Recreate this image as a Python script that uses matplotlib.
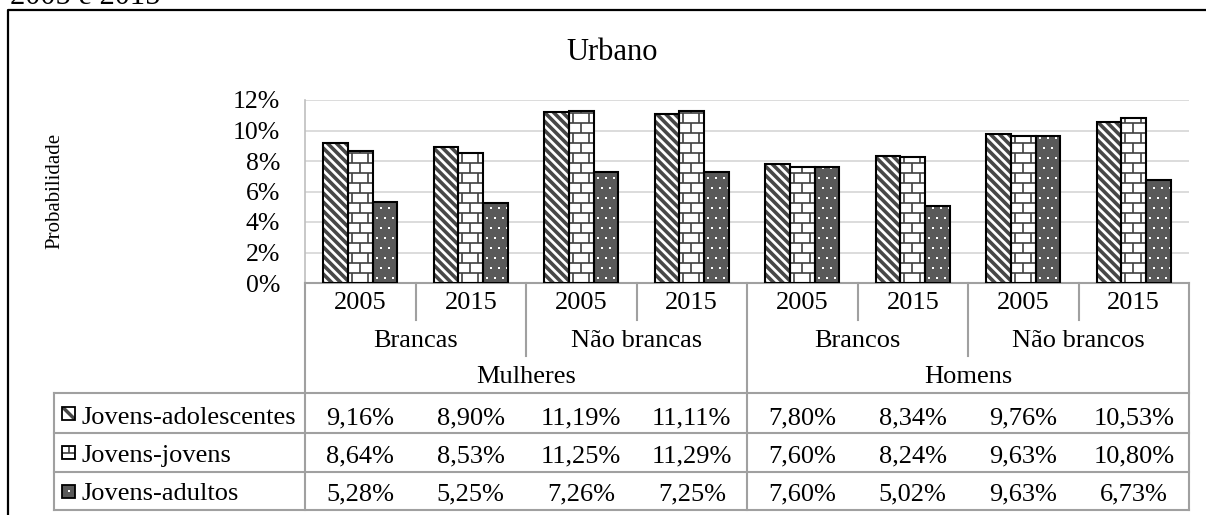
import matplotlib
matplotlib.use('Agg')
import matplotlib.pyplot as plt
import numpy as np
from matplotlib.transforms import Affine2D, IdentityTransform
from matplotlib.lines import Line2D
from matplotlib.patches import Rectangle
from matplotlib.collections import LineCollection

# ---------------- data ----------------
years = ['2005', '2015', '2005', '2015', '2005', '2015', '2005', '2015']
groups = ['Brancas', 'Não brancas', 'Brancos', 'Não brancos']
genders = ['Mulheres', 'Homens']
series_names = ['Jovens-adolescentes', 'Jovens-jovens', 'Jovens-adultos']
adolescentes = [9.16, 8.90, 11.19, 11.11, 7.80, 8.34, 9.76, 10.53]
jovens = [8.64, 8.53, 11.25, 11.29, 7.60, 8.24, 9.63, 10.80]
adultos = [5.28, 5.25, 7.26, 7.25, 7.60, 5.02, 9.63, 6.73]
yticks = [0, 2, 4, 6, 8, 10, 12]
title = 'Urbano'
ylabel = 'Probabilidade'
caption = '2005 e 2015'

# ---------------- setup ----------------
W, H, DPI = 1206, 515, 100
plt.rcParams['font.family'] = ['Liberation Serif', 'DejaVu Serif']
fig = plt.figure(figsize=(W / DPI, H / DPI), dpi=DPI)
PX = Affine2D().scale(1, -1).translate(0, H)  # pixel coords (top-left origin) -> display
ID = IdentityTransform()
FS = 19

AX_L, AX_R, AX_T, AX_B = 305, 1189, 100, 283
ax = fig.add_axes([AX_L / W, 1 - AX_B / H, (AX_R - AX_L) / W, (AX_B - AX_T) / H])
n = len(years)
xpos = np.arange(n) + 0.5
ax.set_xlim(0, n)
ax.set_ylim(0, 12)
ax.set_autoscale_on(False)

ax.set_yticks(yticks)
ax.set_yticklabels([f'{v}%' for v in yticks], fontsize=18.5)
ax.tick_params(axis='y', length=0, pad=18)
ax.set_xticks([])
ax.yaxis.grid(True, color='#d9d9d9', linewidth=1.3)
ax.set_axisbelow(True)
for s in ['top', 'right']:
    ax.spines[s].set_visible(False)
ax.spines['left'].set_color('#bfbfbf')
ax.spines['left'].set_linewidth(1.2)
ax.spines['bottom'].set_color('#a0a0a0')
ax.spines['bottom'].set_linewidth(1.5)

# ---------------- textures ----------------
def add_stripes(container, patch, bbox, period, lw, color, z, anchor):
    x0, y0, x1, y1 = bbox
    c0 = anchor[0] + anchor[1]
    kmin = int(np.floor((x0 + y0 - c0) / period)) - 2
    kmax = int(np.ceil((x1 + y1 - c0) / period)) + 2
    segs = []
    for k in range(kmin, kmax + 1):
        c = c0 + k * period
        segs.append([(x0 - 6, c - (x0 - 6)), (x1 + 6, c - (x1 + 6))])
    lc = LineCollection(segs, colors=color, linewidths=lw, transform=ID, zorder=z)
    container.add_artist(lc)
    lc.set_clip_path(patch)


def add_bricks(container, patch, bbox, ph, bw, lw, color, z, anchor):
    x0, y0, x1, y1 = bbox
    ax0, ay0 = anchor
    segs = []
    kmin = int(np.floor((y0 - ay0) / ph)) - 1
    kmax = int(np.ceil((y1 - ay0) / ph)) + 1
    for k in range(kmin, kmax + 1):
        y = ay0 + k * ph
        segs.append([(x0 - 4, y), (x1 + 4, y)])
        off = (k % 2) * bw / 2
        jmin = int(np.floor((x0 - ax0 - off) / bw)) - 1
        jmax = int(np.ceil((x1 - ax0 - off) / bw)) + 1
        for j in range(jmin, jmax + 1):
            xv = ax0 + off + j * bw
            segs.append([(xv, y), (xv, y + ph)])
    lc = LineCollection(segs, colors=color, linewidths=lw, transform=ID, zorder=z)
    container.add_artist(lc)
    lc.set_clip_path(patch)


def add_dots(container, patch, bbox, pxs, pys, ms, z, anchor):
    x0, y0, x1, y1 = bbox
    ax0, ay0 = anchor
    xs, ys = [], []
    kmin = int(np.floor((y0 - ay0) / pys)) - 1
    kmax = int(np.ceil((y1 - ay0) / pys)) + 1
    for k in range(kmin, kmax + 1):
        y = ay0 + k * pys
        off = (k % 2) * pxs / 2
        jmin = int(np.floor((x0 - ax0 - off) / pxs)) - 1
        jmax = int(np.ceil((x1 - ax0 - off) / pxs)) + 1
        for j in range(jmin, jmax + 1):
            xs.append(ax0 + off + j * pxs)
            ys.append(y)
    ln = Line2D(xs, ys, linestyle='none', marker='s', markersize=ms,
                markerfacecolor='white', markeredgewidth=0, transform=ID, zorder=z)
    container.add_artist(ln)
    ln.set_clip_path(patch)

STRIPE_C = '#474747'
BRICK_C = '#3f3f3f'
DARK = '#595959'

# ---------------- bars ----------------
bw = 0.2236
series = [adolescentes, jovens, adultos]
faces = ['white', 'white', DARK]
for k, vals in enumerate(series):
    bars = ax.bar(xpos + (k - 1) * bw, vals, bw, facecolor=faces[k],
                  edgecolor='none', linewidth=0, zorder=2)
    ax.bar(xpos + (k - 1) * bw, vals, bw, fill=False, edgecolor='black',
           linewidth=1.5, zorder=3)
    for b in bars:
        ext = b.get_window_extent()
        bb = (ext.x0, ext.y0, ext.x1, ext.y1)
        if k == 0:
            add_stripes(ax, b, bb, 9, 2.6, STRIPE_C, 2.5, (ext.x0, ext.y0))
        elif k == 1:
            add_bricks(ax, b, bb, 10, 16, 1.2, BRICK_C, 2.5, (ext.x0 + 4, ext.y0))
        else:
            add_dots(ax, b, bb, 8, 10, 1.6, 2.5, (ext.x0 + 4, ext.y0 + 5))

# ---------------- frame, titles ----------------
fig.add_artist(Line2D([8, 8, W], [H, 10, 10], transform=PX, color='black', linewidth=1.6))
fig.text(10, 4, caption, transform=PX, fontsize=22, va='baseline', ha='left')
fig.text(612, 60, title, transform=PX, fontsize=22, va='baseline', ha='center')
fig.text(55, 191, ylabel, transform=PX, fontsize=15, va='center', ha='center', rotation=90)

# ---------------- table ----------------
col = [ax.transData.transform((i, 0))[0] for i in range(n + 1)]
cen = [ax.transData.transform((v, 0))[0] for v in xpos]
LINE_C = '#a0a0a0'
TLW = 1.5
TAB_L = 54
Y_AX = AX_B
Y_YEAR = 320
Y_GRP = 356
ROWS = [393, 433, 472, 510]

def hline(x0, x1, y):
    fig.add_artist(Line2D([x0, x1], [y, y], transform=PX, color=LINE_C, linewidth=TLW))

def vline(x, y0, y1):
    fig.add_artist(Line2D([x, x], [y0, y1], transform=PX, color=LINE_C, linewidth=TLW))

# header separators
for i in range(n + 1):
    if i in (0, n, n // 2):
        vline(col[i], Y_AX, ROWS[-1])
    elif i % 4 == 2:
        vline(col[i], Y_AX, Y_GRP)
    else:
        vline(col[i], Y_AX, Y_YEAR)
for y in ROWS:
    hline(TAB_L, col[-1], y)
vline(TAB_L, ROWS[0], ROWS[-1])

# header text
for i, yr in enumerate(years):
    fig.text(cen[i], 309, yr, transform=PX, fontsize=FS, ha='center', va='baseline')
for g, name in enumerate(groups):
    fig.text((col[2 * g] + col[2 * g + 2]) / 2, 347, name, transform=PX,
             fontsize=FS, ha='center', va='baseline')
for g, name in enumerate(genders):
    fig.text((col[4 * g] + col[4 * g + 4]) / 2, 383, name, transform=PX,
             fontsize=FS, ha='center', va='baseline')

# data rows
baselines = [424, 462, 500]
key_faces = ['white', 'white', DARK]
for r, (name, vals) in enumerate(zip(series_names, series)):
    fig.text(81, baselines[r], name, transform=PX, fontsize=FS, ha='left', va='baseline')
    for i, v in enumerate(vals):
        s = f'{v:.2f}'.replace('.', ',') + '%'
        fig.text(cen[i], baselines[r], s, transform=PX, fontsize=FS, ha='center', va='baseline')
    # legend key
    rc = (ROWS[r] + ROWS[r + 1]) / 2
    kx0, ky0, ks = 62, rc - 6.5, 13
    key = Rectangle((kx0, ky0), ks, ks, transform=PX, facecolor=key_faces[r],
                    edgecolor='none', zorder=5)
    fig.add_artist(key)
    d = PX.transform([(kx0, ky0 + ks), (kx0 + ks, ky0)])
    bb = (d[0][0], d[0][1], d[1][0], d[1][1])
    cxy = ((bb[0] + bb[2]) / 2, (bb[1] + bb[3]) / 2)
    if r == 0:
        add_stripes(fig, key, bb, 40, 2.5, STRIPE_C, 6, cxy)
    elif r == 1:
        add_bricks(fig, key, bb, ks / 2, ks, 1.2, BRICK_C, 6, cxy)
    else:
        add_dots(fig, key, bb, 40, 40, 1.6, 6, cxy)
    fig.add_artist(Rectangle((kx0, ky0), ks, ks, transform=PX, fill=False,
                             edgecolor='black', linewidth=1.3, zorder=7))

fig.savefig('out.png', dpi=DPI)
